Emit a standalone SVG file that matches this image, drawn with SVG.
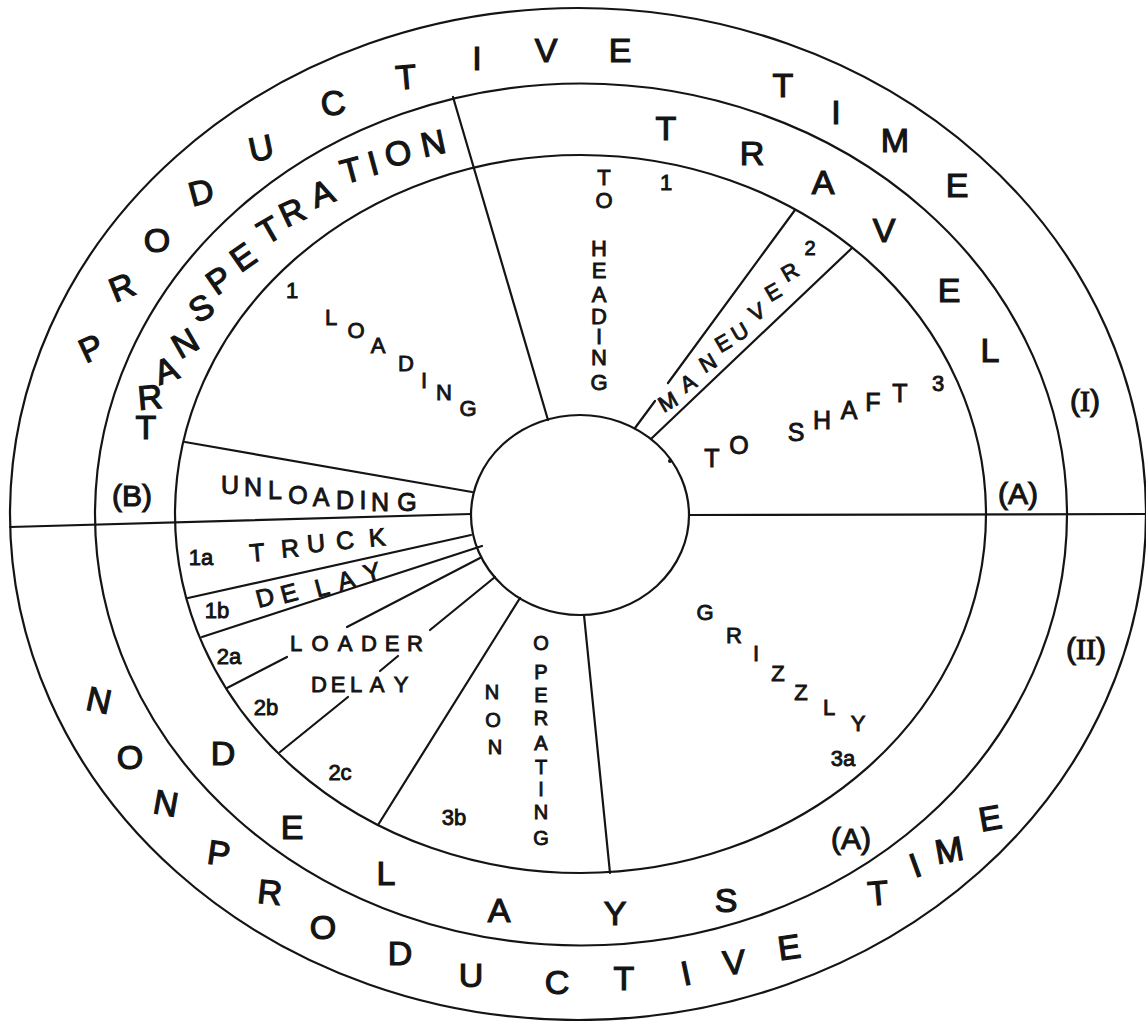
<svg xmlns="http://www.w3.org/2000/svg" width="1146" height="1021" viewBox="0 0 1146 1021">
<style>
.ln{fill:none;stroke:#141414;stroke-width:2.2;stroke-linecap:round}
text{font-family:"Liberation Sans",Arial,sans-serif;fill:#141414;stroke:#141414;stroke-width:0.9;text-anchor:middle;dominant-baseline:central}
.b{font-size:34px;stroke-width:1.2}
.p{font-size:30px;stroke-width:1.1}
.m{font-size:25px}
.s{font-size:22px}
.xs{font-size:20px}
.sf{font-family:"Liberation Serif","Times New Roman",serif}
</style>
<rect width="1146" height="1021" fill="#fff"/>
<g id="rings">
<ellipse class="ln" cx="578" cy="514" rx="568" ry="506"/>
<ellipse class="ln" cx="581" cy="514.5" rx="486" ry="431"/>
<ellipse class="ln" cx="580.5" cy="514" rx="405.5" ry="359"/>
<ellipse class="ln" cx="580" cy="515" rx="109" ry="100"/>
<circle cx="670" cy="461" r="2" fill="#141414"/>
</g>
<g id="connectors">
<line class="ln" x1="453" y1="97" x2="548" y2="420"/>
<line class="ln" x1="635" y1="428" x2="655" y2="401"/>
<line class="ln" x1="668" y1="383" x2="795" y2="210"/>
<line class="ln" x1="652" y1="438" x2="852" y2="248"/>
<line class="ln" x1="10" y1="527" x2="471" y2="514"/>
<line class="ln" x1="689" y1="515" x2="1146" y2="514"/>
<line class="ln" x1="185" y1="442" x2="472" y2="492"/>
<line class="ln" x1="188" y1="598" x2="471" y2="535"/>
<line class="ln" x1="202" y1="637" x2="482" y2="546"/>
<line class="ln" x1="480" y1="558" x2="347" y2="627"/>
<line class="ln" x1="287" y1="657" x2="227" y2="688"/>
<line class="ln" x1="495" y1="577" x2="430" y2="630"/>
<line class="ln" x1="398" y1="656" x2="380" y2="671"/>
<line class="ln" x1="348" y1="697" x2="280" y2="752"/>
<line class="ln" x1="520" y1="598" x2="378" y2="825"/>
<line class="ln" x1="584" y1="615" x2="610" y2="873"/>
</g>
<g id="productive-time">
<text class="b" x="91" y="348" transform="rotate(-25 91 348)">P</text>
<text class="b" x="122" y="287" transform="rotate(-22 122 287)">R</text>
<text class="b" x="157" y="240">O</text>
<text class="b" x="201" y="192" transform="rotate(-15 201 192)">D</text>
<text class="b" x="261" y="148" transform="rotate(-12 261 148)">U</text>
<text class="b" x="333" y="103" transform="rotate(-8 333 103)">C</text>
<text class="b" x="406" y="77" transform="rotate(-5 406 77)">T</text>
<text class="b" x="477" y="58">I</text>
<text class="b" x="546" y="50">V</text>
<text class="b" x="620" y="50">E</text>
<text class="b" x="783" y="85">T</text>
<text class="b" x="836" y="112">I</text>
<text class="b" x="895" y="140">M</text>
<text class="b" x="957" y="185">E</text>
<text class="p" x="1085" y="400">(<tspan class="sf">I</tspan>)</text>
</g>
<g id="nonproductive-time">
<text class="b" x="99" y="700" transform="rotate(12 99 700)">N</text>
<text class="b" x="130" y="757">O</text>
<text class="b" x="166" y="803" transform="rotate(10 166 803)">N</text>
<text class="b" x="219" y="853" transform="rotate(8 219 853)">P</text>
<text class="b" x="270" y="892" transform="rotate(6 270 892)">R</text>
<text class="b" x="323" y="927">O</text>
<text class="b" x="400" y="953">D</text>
<text class="b" x="471" y="975">U</text>
<text class="b" x="557" y="982">C</text>
<text class="b" x="624" y="978">T</text>
<text class="b" x="686" y="973" transform="rotate(-12 686 973)">I</text>
<text class="b" x="734" y="962" transform="rotate(-5 734 962)">V</text>
<text class="b" x="789" y="947" transform="rotate(-8 789 947)">E</text>
<text class="b" x="878" y="893" transform="rotate(-5 878 893)">T</text>
<text class="b" x="915" y="865" transform="rotate(-20 915 865)">I</text>
<text class="b" x="949" y="850" transform="rotate(-10 949 850)">M</text>
<text class="b" x="990" y="818" transform="rotate(-10 990 818)">E</text>
<text class="p" x="1086" y="648">(<tspan class="sf">II</tspan>)</text>
</g>
<g id="transpetration">
<text class="b" x="146" y="427">T</text>
<text class="b" x="150" y="397" transform="rotate(-5 150 397)">R</text>
<text class="b" x="166" y="370" transform="rotate(-20 166 370)">A</text>
<text class="b" x="185" y="343" transform="rotate(-30 185 343)">N</text>
<text class="b" x="201" y="308" transform="rotate(-30 201 308)">S</text>
<text class="b" x="219" y="280" transform="rotate(-35 219 280)">P</text>
<text class="b" x="243" y="257" transform="rotate(-35 243 257)">E</text>
<text class="b" x="269" y="230" transform="rotate(-30 269 230)">T</text>
<text class="b" x="292" y="212" transform="rotate(-25 292 212)">R</text>
<text class="b" x="322" y="193" transform="rotate(-20 322 193)">A</text>
<text class="b" x="351" y="170" transform="rotate(-15 351 170)">T</text>
<text class="b" x="373" y="163" transform="rotate(-15 373 163)">I</text>
<text class="b" x="398" y="153" transform="rotate(-12 398 153)">O</text>
<text class="b" x="433" y="143" transform="rotate(-12 433 143)">N</text>
<text class="p" x="132" y="495">(B)</text>
</g>
<g id="travel">
<text class="b" x="666" y="128">T</text>
<text class="b" x="752" y="153">R</text>
<text class="b" x="823" y="182">A</text>
<text class="b" x="884" y="230">V</text>
<text class="b" x="949" y="290">E</text>
<text class="b" x="990" y="350">L</text>
<text class="p" x="1018" y="493">(A)</text>
</g>
<g id="delays">
<text class="b" x="223" y="753">D</text>
<text class="b" x="292" y="827">E</text>
<text class="b" x="386" y="873">L</text>
<text class="b" x="499" y="910">A</text>
<text class="b" x="615" y="913">Y</text>
<text class="b" x="726" y="900">S</text>
<text class="p" x="851" y="838">(A)</text>
</g>
<g id="loading">
<text class="s" x="292" y="290">1</text>
<text class="s" x="331 356 378 406 424 444 468" y="317 330 345 363 380 392 408">LOADING</text>
</g>
<g id="unloading">
<text class="m" x="230 253 275 298 321 345 363 380 407" y="485 487 490 495 497 500 500 502 502">UNLOADING</text>
</g>
<g id="truck-delay">
<text class="s" x="201" y="557">1a</text>
<text class="m" x="257" y="552" transform="rotate(-5 257 552)">T</text>
<text class="m" x="290" y="548" transform="rotate(-5 290 548)">R</text>
<text class="m" x="316" y="543" transform="rotate(-5 316 543)">U</text>
<text class="m" x="345" y="540" transform="rotate(-5 345 540)">C</text>
<text class="m" x="377" y="537" transform="rotate(-5 377 537)">K</text>
<text class="s" x="217" y="610">1b</text>
<text class="m" x="265" y="597" transform="rotate(-15 265 597)">D</text>
<text class="m" x="289" y="593" transform="rotate(-15 289 593)">E</text>
<text class="m" x="322" y="587" transform="rotate(-15 322 587)">L</text>
<text class="m" x="346" y="580" transform="rotate(-15 346 580)">A</text>
<text class="m" x="372" y="572" transform="rotate(-15 372 572)">Y</text>
</g>
<g id="loader-delay">
<text class="s" x="296 320 345 369 392 415" y="643 643 643 643 643 643">LOADER</text>
<text class="s" x="319 338 356 377 401" y="684 684 684 684 684">DELAY</text>
<text class="s" x="229" y="656">2a</text>
<text class="s" x="266" y="707">2b</text>
<text class="s" x="340" y="772">2c</text>
</g>
<g id="non-operating">
<text class="xs" x="492 493 495" y="692 720 747">NON</text>
<text class="xs" x="541 541 541 541 541 541 541 541 541" y="643 672 695 718 743 767 789 812 838">OPERATING</text>
<text class="s" x="454" y="817">3b</text>
</g>
<g id="grizzly">
<text class="s" x="705" y="612">G</text>
<text class="s" x="734" y="635">R</text>
<text class="s" x="756" y="653">I</text>
<text class="s" x="778" y="673">Z</text>
<text class="s" x="801" y="692">Z</text>
<text class="s" x="829" y="707">L</text>
<text class="s" x="858" y="723">Y</text>
<text class="s" x="843" y="758">3a</text>
</g>
<g id="to-heading">
<text class="s" x="604 604" y="177 200">TO</text>
<text class="s" x="599 599 599 599 599 599 599" y="248 270 294 316 336 357 382">HEADING</text>
<text class="s" x="666" y="182">1</text>
</g>
<g id="maneuver">
<text class="s" x="668" y="402" transform="rotate(-30 668 402)">M</text>
<text class="s" x="688" y="383" transform="rotate(-30 688 383)">A</text>
<text class="s" x="708" y="363" transform="rotate(-30 708 363)">N</text>
<text class="s" x="723" y="343" transform="rotate(-30 723 343)">E</text>
<text class="s" x="740" y="332" transform="rotate(-30 740 332)">U</text>
<text class="s" x="757" y="312" transform="rotate(-30 757 312)">V</text>
<text class="s" x="773" y="292" transform="rotate(-30 773 292)">E</text>
<text class="s" x="790" y="272" transform="rotate(-30 790 272)">R</text>
<text class="xs" x="810" y="248">2</text>
</g>
<g id="to-shaft">
<text class="m" x="712 739" y="458 445">TO</text>
<text class="m" x="796 822 849 873 900" y="432 420 410 402 393">SHAFT</text>
<text class="s" x="938" y="383">3</text>
</g>
</svg>
